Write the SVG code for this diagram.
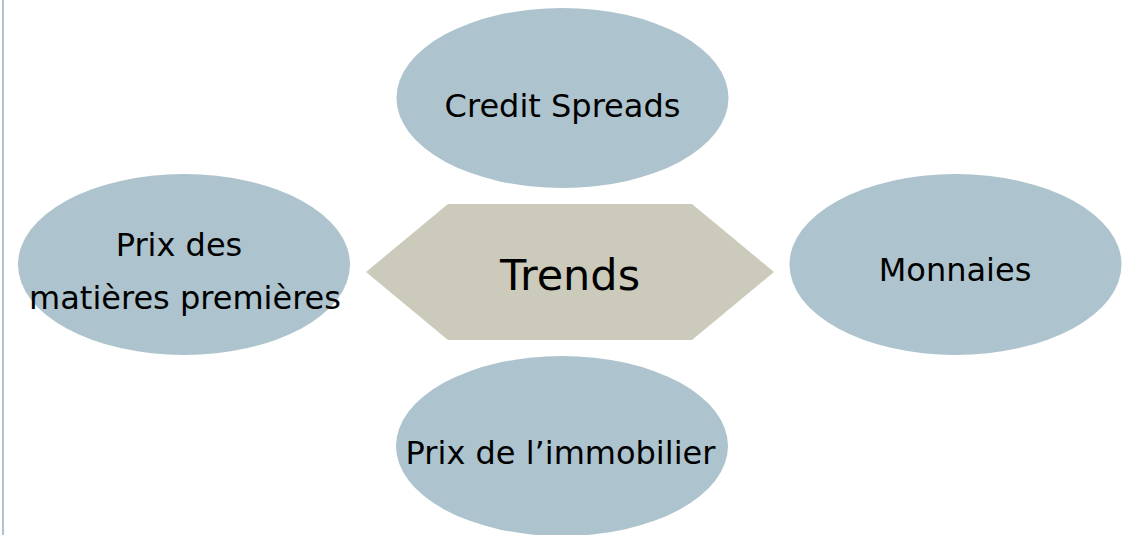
<svg xmlns="http://www.w3.org/2000/svg" width="1127" height="535" viewBox="0 0 1127 535">
<style>
.oval{fill:#adc3cd;stroke:none}
.hex{fill:#cbcabb;stroke:none}
.lbl{font-family:"DejaVu Sans",Verdana,sans-serif;font-size:32px;fill:#000;text-anchor:middle}
.big{font-size:43px}
</style>
<rect x="2" y="0" width="2" height="535" fill="#adc3cd"/>
<g id="connectors"></g>
<g id="credit-spreads">
<ellipse class="oval" cx="562.5" cy="98" rx="166" ry="90"/>
<text class="lbl" x="562.5" y="117">Credit Spreads</text>
</g>
<g id="matieres">
<ellipse class="oval" cx="184" cy="264.5" rx="166" ry="90.5"/>
<text class="lbl" x="179" y="256">Prix des</text>
<text class="lbl" x="185" y="309">matières premières</text>
</g>
<g id="trends">
<polygon class="hex" points="366,272 448,204 692,204 774,272 692,340 448,340"/>
<text class="lbl big" x="570" y="290">Trends</text>
</g>
<g id="monnaies">
<ellipse class="oval" cx="955.5" cy="264.5" rx="166" ry="90.5"/>
<text class="lbl" x="955" y="281">Monnaies</text>
</g>
<g id="immobilier">
<ellipse class="oval" cx="562" cy="446" rx="166" ry="90"/>
<text class="lbl" x="560.5" y="464">Prix de l’immobilier</text>
</g>
</svg>
